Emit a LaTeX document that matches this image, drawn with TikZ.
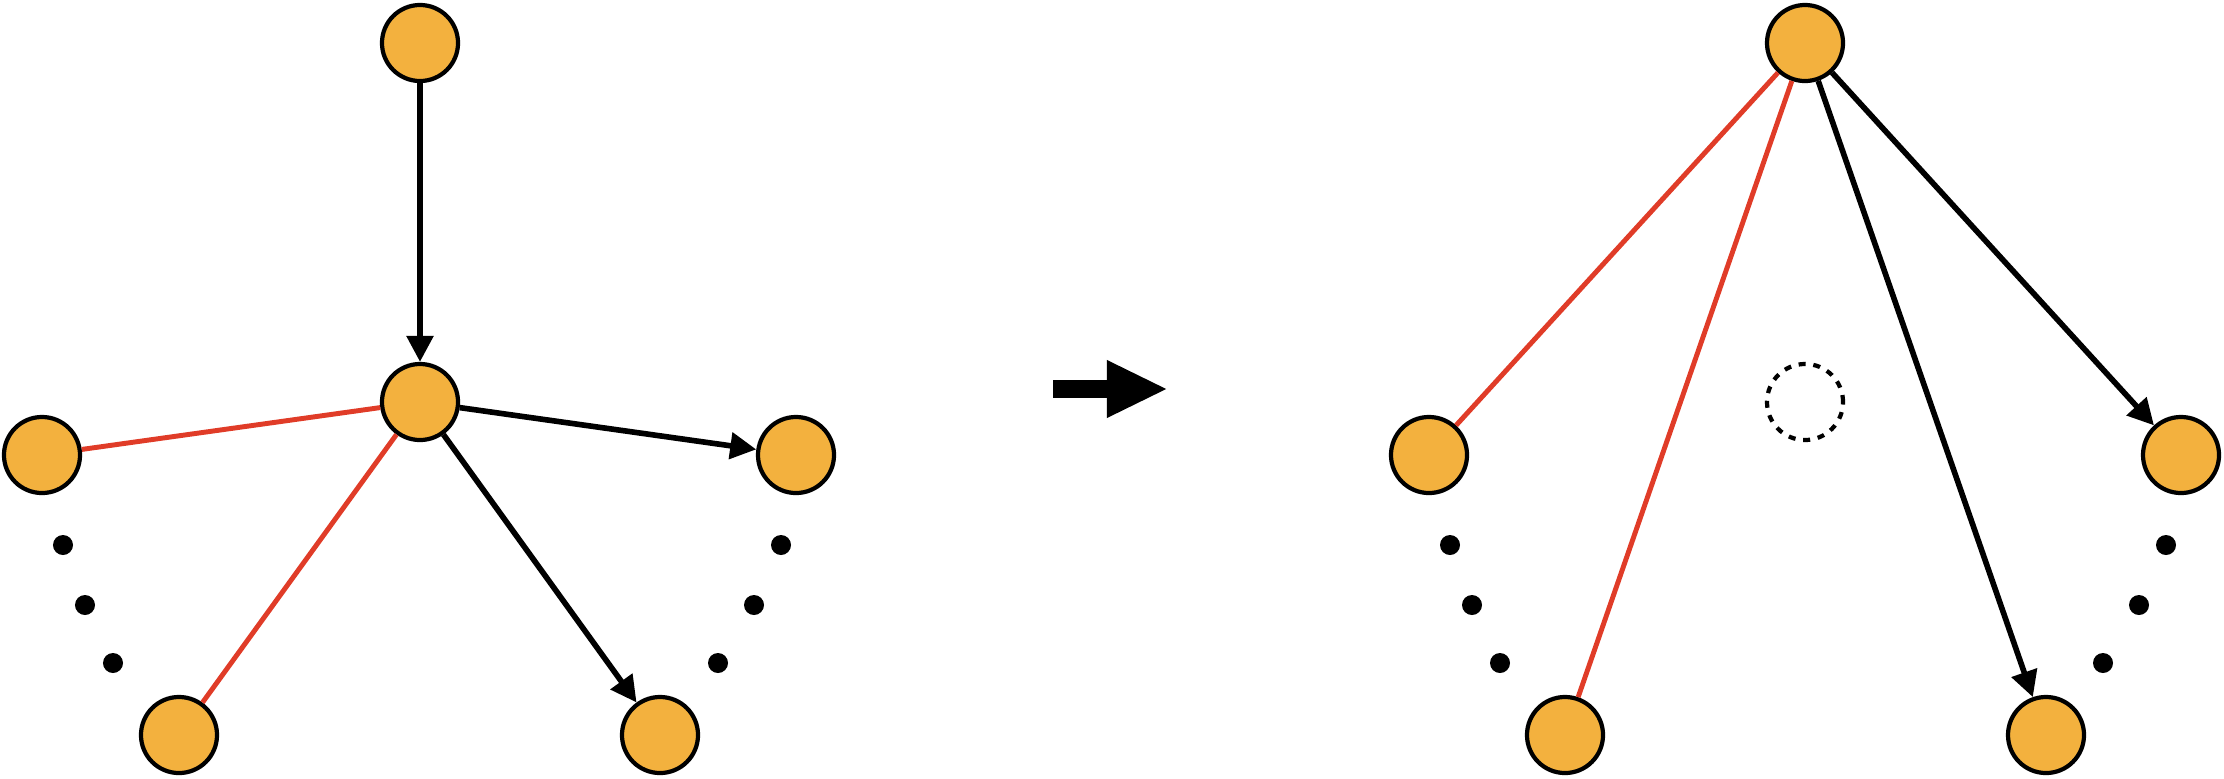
\documentclass[tikz,border=0pt]{standalone}
\usepackage{xcolor}
\usepackage{tikz}
\usetikzlibrary{arrows.meta}
\definecolor{vfill}{HTML}{F3B13E}
\definecolor{vred}{HTML}{E03C28}
\begin{document}
\begin{tikzpicture}[x=0.01cm, y=-0.01cm,
		vert/.style={circle, draw, fill=vfill, line width=1.2pt, minimum size=7.6mm, inner sep=0pt},
		ghost/.style={circle, draw, dash pattern=on 2pt off 2.2pt, line width=1.2pt, minimum size=7.6mm, inner sep=0pt},
		redge/.style={draw=vred, line width=1.4pt},
		bedge/.style={draw, line width=1.6pt, -{Triangle[length=2.6mm, width=2.6mm]}},
		dotn/.style={circle, fill, inner sep=0pt, minimum size=2mm},
		]
		\useasboundingbox (0,0) rectangle (2224,778);
		
		% before
		\node[vert] (t1) at (420, 43) {};
		\node[vert] (c1) at (420, 402) {};
		\node[vert] (a1) at (42, 455) {};
		\node[vert] (b1) at (179, 735) {};
		\node[vert] (d1) at (660, 735) {};
		\node[vert] (e1) at (796, 455) {};
		
		% after
		\node[vert] (t2) at (1805, 43) {};
		\node[ghost] (c2) at (1805, 402) {};
		\node[vert] (a2) at (1429, 455) {};
		\node[vert] (b2) at (1565, 735) {};
		\node[vert] (d2) at (2046, 735) {};
		\node[vert] (e2) at (2181, 455) {};
		
		\draw[bedge] (t1) -- (c1);
		\draw[redge] (c1) -- (a1);
		\draw[redge] (c1) -- (b1);
		\draw[bedge] (c1) -- (d1);
		\draw[bedge] (c1) -- (e1);
		
		\draw[redge] (t2) -- (a2);
		\draw[redge] (t2) -- (b2);
		\draw[bedge] (t2) -- (d2);
		\draw[bedge] (t2) -- (e2);
		
		\foreach \dx/\dy [count=\k] in {21/90, 43/150, 71/208} {
			\node[dotn] (pa\k) at (42+\dx, 455+\dy) {};
			\node[dotn] (pb\k) at (1429+\dx, 455+\dy) {};
		}
		\foreach \dx/\dy [count=\k] in {15/90, 42/150, 78/208} {
			\node[dotn] (pe\k) at (796-\dx, 455+\dy) {};
			\node[dotn] (pf\k) at (2181-\dx, 455+\dy) {};
		}
		
		% step arrow
		\coordinate (m0) at (1053, 389);
		\coordinate (m1) at (1168, 389);
		\draw[line width=4.85pt, -{Triangle[length=6.1mm, width=5.3mm]}] (m0) -- (m1);
		\end{tikzpicture}
\end{document}
